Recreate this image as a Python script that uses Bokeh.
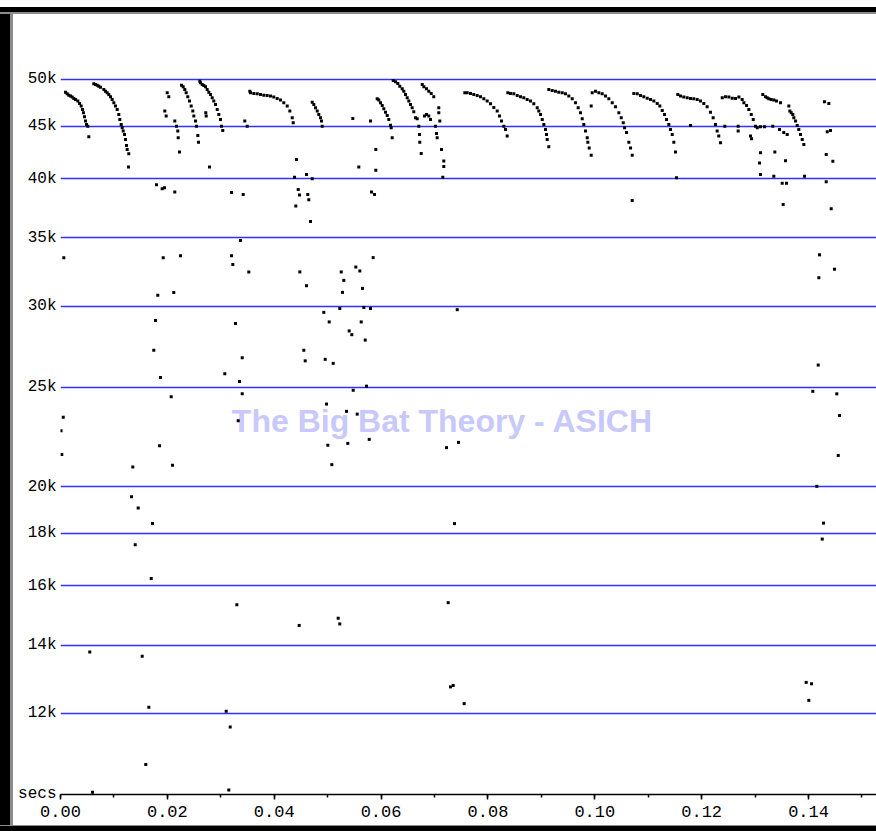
from bokeh.plotting import figure
from bokeh.models import (FixedTicker, SingleIntervalTicker, PrintfTickFormatter,
                          Label, Div, Range1d)
from bokeh.layouts import column, row
from bokeh.embed import file_html
from bokeh.resources import INLINE

# ---------------- data: time (ms) and frequency (Hz) of each zero-crossing dot ----------------
call1_ms = [0.94, 1.25, 1.55, 1.87, 2.19, 2.49, 2.81, 3.24, 3.56, 3.87, 4.12, 4.30, 4.49, 4.68, 4.87, 5.11, 5.30]
call1_hz = [48590, 48420, 48260, 48160, 48050, 47910, 47800, 47620, 47370, 47090, 46740, 46390, 45980, 45530, 45190, 45000, 43940]

call2_ms = [6.23, 6.55, 6.87, 7.17, 7.49, 8.11, 8.42, 8.74, 9.04, 9.36, 9.67, 9.98, 10.29, 10.61, 10.91, 11.10, 11.36, 11.55, 11.74, 11.98, 12.17, 12.35, 12.48, 12.78, 12.73]
call2_hz = [49520, 49440, 49360, 49250, 49140, 48890, 48700, 48530, 48340, 48090, 47800, 47450, 47090, 46740, 46210, 45700, 45190, 44850, 44510, 44180, 43690, 43100, 42710, 42300, 41050]

call3_ms = [22.65, 22.96, 23.26, 23.52, 23.82, 24.14, 24.46, 24.76, 24.95, 25.27, 25.45, 25.70, 25.83]
call3_hz = [49360, 49190, 48890, 48530, 48090, 47620, 47090, 46560, 46040, 45530, 45010, 44080, 43420]

call4_ms = [26.07, 26.20, 26.52, 26.82, 27.14, 27.45, 27.76, 28.07, 28.39, 28.69, 29.01, 29.33, 29.63, 29.94, 30.13, 30.37]
call4_hz = [49810, 49630, 49440, 49330, 49190, 48890, 48590, 48340, 47980, 47620, 47270, 46740, 46210, 45700, 45010, 44580]

call5_ms = [35.43, 35.56, 36.18, 36.81, 37.43, 38.05, 38.68, 39.30, 39.91, 40.55, 41.17, 41.79, 42.43, 42.92, 43.37, 43.55]
call5_hz = [48700, 48530, 48450, 48420, 48340, 48260, 48230, 48160, 48050, 47910, 47730, 47450, 47090, 46560, 45870, 45360]

call6_ms = [47.11, 47.41, 47.73, 48.05, 48.34, 48.66, 48.85, 48.98]
call6_hz = [47510, 47270, 46910, 46560, 46210, 45870, 45530, 45010]

call7_ms = [59.27, 59.57, 59.89, 60.21, 60.51, 60.83, 61.15, 61.44, 61.76, 61.89, 62.08]
call7_hz = [47880, 47730, 47450, 47160, 46810, 46450, 46110, 45700, 45110, 44850, 43850]

call8_ms = [62.27, 62.70, 63.13, 63.50, 63.95, 64.25, 64.57, 64.89, 65.19, 65.50, 65.82, 66.12, 66.44, 66.76, 67.06, 67.19, 67.24, 67.51]
call8_hz = [49890, 49740, 49550, 49250, 48960, 48700, 48340, 47980, 47620, 47270, 46910, 46490, 45870, 45770, 45010, 44180, 43420, 42330]

call9_ms = [67.70, 68.01, 68.50, 68.93, 69.38, 69.86]
call9_hz = [49440, 49190, 48960, 48700, 48450, 48090]

call10_ms = [75.67, 76.12, 76.74, 77.35, 77.99, 78.61, 79.23, 79.86, 80.48, 81.10, 81.73, 82.16, 82.54, 82.97, 83.29, 83.60]
call10_hz = [48530, 48530, 48450, 48340, 48230, 48090, 47880, 47620, 47340, 46950, 46560, 46040, 45530, 45010, 44680, 44020]

call11_ms = [83.72, 84.22, 84.84, 85.48, 86.09, 86.71, 87.34, 87.96, 88.58, 89.22, 89.52, 89.84, 90.16, 90.46, 90.77, 90.96, 91.09, 91.39]
call11_hz = [48530, 48450, 48420, 48230, 48090, 47980, 47800, 47620, 47340, 46910, 46560, 46210, 45700, 45190, 44680, 44180, 43690, 42980]

call12_ms = [91.39, 92.02, 92.64, 93.26, 93.90, 94.51, 95.13, 95.77, 96.38, 96.89, 97.32, 97.64, 97.94, 98.26, 98.58, 98.69, 98.95, 99.32]
call12_hz = [48890, 48780, 48700, 48590, 48530, 48420, 48160, 47880, 47450, 46910, 46390, 45770, 45190, 44510, 43850, 43420, 42860, 42160]

call13_ms = [99.51, 100.13, 100.75, 101.38, 102.00, 102.62, 103.26, 103.87, 104.50, 104.95, 105.32, 105.57, 105.94, 106.37, 106.69, 107.00]
call13_hz = [48530, 48700, 48530, 48420, 48160, 47880, 47450, 47010, 46390, 45870, 45360, 44850, 44380, 43420, 42860, 42160]

call14_ms = [107.30, 107.94, 108.56, 109.17, 109.81, 110.43, 111.05, 111.68, 112.17, 112.62, 113.05, 113.42, 113.85, 114.17, 114.49, 114.79, 115.10]
call14_hz = [48450, 48420, 48230, 48090, 47940, 47800, 47620, 47370, 47090, 46630, 46210, 45700, 45190, 44680, 44180, 43420, 42460]

call15_ms = [115.53, 116.04, 116.65, 117.29, 117.91, 118.52, 119.16, 119.78, 120.40, 121.02, 121.64, 122.15, 122.58, 122.90, 123.20, 123.52]
call15_hz = [48340, 48160, 48050, 47980, 47910, 47880, 47800, 47620, 47370, 47010, 46450, 45870, 45190, 44510, 44020, 43370]

call16_ms = [123.85, 124.47, 125.09, 125.72, 126.34, 126.96, 127.58, 127.90, 128.40, 128.83, 129.28, 129.65, 130.07]
call16_hz = [47980, 48090, 48050, 47940, 47910, 48050, 47800, 47450, 47160, 46740, 46210, 45700, 45010]

call17_ms = [131.44, 131.95, 132.26, 132.56, 133.01, 133.50, 134.00, 134.75]
call17_hz = [48340, 48090, 47980, 47880, 47800, 47730, 47620, 47450]

call18_ms = [136.31, 136.50, 136.76, 137.06, 137.25, 137.57, 137.88, 138.18, 138.50, 138.82, 139.12]
call18_hz = [47090, 46560, 46390, 46210, 45870, 45530, 45080, 44680, 44180, 43690, 43200]

# scattered single crossings (harmonics / noise)
stray_ms = [19.97, 20.27, 19.52, 19.78, 21.39, 21.71, 21.95, 22.03, 22.27, 17.97, 19.03, 19.46, 21.39,
            27.19, 27.27, 27.89, 32.00, 34.19, 33.69, 34.49, 34.94, 44.17, 43.80, 44.49, 44.73, 44.04,
            46.04, 47.11, 46.28, 46.47, 46.79, 54.71, 55.83, 58.02, 59.01, 59.01, 58.21, 58.77, 58.52,
            68.13, 68.50, 68.93, 69.25, 70.18, 70.37, 70.50, 70.80, 70.80, 70.99, 71.31, 71.74, 71.74, 71.55,
            99.32, 115.29, 117.91,
            124.33, 126.83, 126.83, 129.14, 129.33, 130.40, 131.01, 131.76, 131.01, 130.83, 131.01, 133.50,
            133.69, 135.69, 135.07, 135.88, 139.25, 143.31, 144.55, 143.31,
            133.31, 134.57, 135.37, 136.01, 142.99, 143.80, 143.50, 144.11,
            107.00, 135.25, 144.24, 142.05, 144.86, 141.93, 141.81, 140.80, 145.29, 145.80, 145.56, 141.55,
            142.80, 142.56, 139.56, 140.56, 140.05,
            0.62, 19.22, 22.46, 32.00, 32.25, 35.24, 44.79, 18.21, 21.20, 17.78, 32.75, 17.46, 34.01, 30.75,
            18.72, 33.50, 34.01, 20.72, 0.51, 0.10, 0.24, 33.26, 18.53, 13.53, 20.96, 13.29, 14.54, 17.22,
            13.98, 16.98, 33.00, 44.67, 5.48, 15.29, 16.53, 31.01, 31.76, 15.96, 5.99, 31.50,
            52.54, 55.27, 56.02, 53.02, 46.04, 52.78, 56.52, 52.27, 56.77, 58.02, 74.25, 49.28, 50.29, 56.28,
            54.03, 54.52, 57.03, 45.54, 45.80, 49.54, 51.04, 54.78, 57.27, 49.78, 53.53, 55.53, 50.03, 53.77,
            57.78, 50.78, 72.24, 74.49, 73.74,
            72.56, 51.97, 52.27, 72.99, 73.50, 75.55]
stray_hz = [48530, 48090, 46560, 46040, 45530, 45010, 44510, 43850, 42460, 39450, 39100, 39190, 38800,
            46390, 46040, 41050, 38770, 38600, 34800, 45530, 45010, 41760, 40130, 39040, 38540, 37600,
            40380, 39980, 38600, 38140, 36320, 45800, 41050, 45530, 42710, 40750, 38800, 38600, 33480,
            46040, 46210, 46040, 45700, 45010, 44280, 43850, 46910, 46390, 45530, 42710, 41620, 41110, 40130,
            47090, 40070, 45080,
            45010, 45010, 44510, 44020, 43760, 44850, 44950, 44950, 42400, 41430, 40380, 40210,
            42460, 41640, 39580, 39580, 40210, 42230, 41580, 39720,
            45010, 44680, 44380, 44180, 47550, 47370, 44450, 44580,
            38080, 37740, 37380, 33690, 32620, 32000, 26290, 24780, 24640, 23470, 21450, 20010,
            18420, 17770, 12870, 12830, 12360,
            33480, 33480, 33630, 33630, 32970, 32420, 32420, 30770, 30960, 29070, 28870, 27180, 26730, 25780,
            25560, 25330, 24650, 24480, 23370, 22670, 21500, 23190, 21920, 20900, 20980, 19550, 19060, 18400,
            17540, 16260, 15330, 14630, 13780, 13650, 12170, 12060, 11640, 10700, 10050, 10100,
            32420, 32780, 32490, 31810, 31430, 30960, 31240, 29860, 29930, 29860, 29780, 29600, 28970, 28970,
            28390, 28150, 27810, 27180, 26540, 26630, 26390, 24840, 25070, 24080, 23690, 23540, 21950, 22040,
            22240, 21010, 21830, 22090, 18400,
            15400, 14870, 14680, 12740, 12780, 12270]

y_ticks = [12000, 14000, 16000, 18000, 20000, 25000, 30000, 35000, 40000, 45000, 50000]
y_tick_labels = ["12k", "14k", "16k", "18k", "20k", "25k", "30k", "35k", "40k", "45k", "50k"]
# the unit caption sits at the foot of the frequency scale, left of the time axis
unit_tick = 10010
unit_label = "secs"

series = [(call1_ms, call1_hz), (call2_ms, call2_hz), (call3_ms, call3_hz), (call4_ms, call4_hz),
          (call5_ms, call5_hz), (call6_ms, call6_hz), (call7_ms, call7_hz), (call8_ms, call8_hz),
          (call9_ms, call9_hz), (call10_ms, call10_hz), (call11_ms, call11_hz), (call12_ms, call12_hz),
          (call13_ms, call13_hz), (call14_ms, call14_hz), (call15_ms, call15_hz), (call16_ms, call16_hz),
          (call17_ms, call17_hz), (call18_ms, call18_hz), (stray_ms, stray_hz)]

# ---------------- figure ----------------
p = figure(width=863, height=811, x_range=Range1d(0, 0.15272), y_range=Range1d(10000, 57870),
           y_axis_type="log", output_backend="svg", toolbar_location=None,
           min_border_left=47, min_border_right=0, min_border_top=0, min_border_bottom=31)
p.background_fill_color = "white"
p.border_fill_color = "white"
p.outline_line_color = None

overrides = {v: s for v, s in zip(y_ticks, y_tick_labels)}
overrides[unit_tick] = unit_label
p.yaxis.ticker = FixedTicker(ticks=y_ticks + [unit_tick])
p.yaxis.major_label_overrides = overrides
p.yaxis.axis_line_color = None
p.yaxis.major_tick_line_color = None
p.yaxis.minor_tick_line_color = None
p.yaxis.major_tick_out = 0
p.yaxis.major_tick_in = 0
p.yaxis.minor_tick_out = 0
p.yaxis.minor_tick_in = 0
p.yaxis.major_label_standoff = 4
p.yaxis.major_label_text_font = "Liberation Mono"
p.yaxis.major_label_text_font_size = "16px"
p.yaxis.major_label_text_color = "black"

p.ygrid.ticker = FixedTicker(ticks=y_ticks)
p.ygrid.grid_line_color = "#3030ff"
p.ygrid.grid_line_width = 1.5
p.xgrid.visible = False

p.xaxis.ticker = SingleIntervalTicker(interval=0.02, num_minor_ticks=2)
p.xaxis.formatter = PrintfTickFormatter(format="%.2f")
p.xaxis.axis_line_color = "black"
p.xaxis.axis_line_width = 1.5
p.xaxis.major_tick_line_color = "black"
p.xaxis.major_tick_line_width = 1.5
p.xaxis.major_tick_out = 5
p.xaxis.major_tick_in = 0
p.xaxis.minor_tick_line_color = "black"
p.xaxis.minor_tick_line_width = 1.5
p.xaxis.minor_tick_out = 3
p.xaxis.minor_tick_in = 0
p.xaxis.major_label_standoff = 6
p.xaxis.major_label_text_font = "Liberation Mono"
p.xaxis.major_label_text_font_size = "17px"
p.xaxis.major_label_text_color = "black"

watermark = Label(x=0.0715, y=23160, text="The Big Bat Theory - ASICH",
                  text_font="Liberation Sans", text_font_style="bold", text_font_size="32px",
                  text_color="#c8c8fa", text_align="center", text_baseline="alphabetic",
                  level="underlay")
p.add_layout(watermark)

for ms, hz in series:
    p.scatter(x=[v / 1000.0 for v in ms], y=hz, marker="square", size=3,
              fill_color="black", line_color=None)

# window frame
top = Div(text="", width=876, height=14, margin=0,
          styles={"background": "linear-gradient(to bottom, #ffffff 0px, #ffffff 7px, #000000 7px, #000000 12px, #8c8c8c 12px, #8c8c8c 14px)"})
left = Div(text="", width=13, height=811, margin=0,
           styles={"background": "linear-gradient(to right, #000000 0px, #000000 10px, #8c8c8c 10px, #8c8c8c 13px)"})
bottom = Div(text="", width=876, height=6, margin=0,
             styles={"background": "linear-gradient(to bottom, #8c8c8c 0px, #8c8c8c 1px, #000000 1px, #000000 6px)"})

layout = column(top, row(left, p, spacing=0), bottom, spacing=0)

open("out.html", "w").write(file_html(layout, INLINE))
